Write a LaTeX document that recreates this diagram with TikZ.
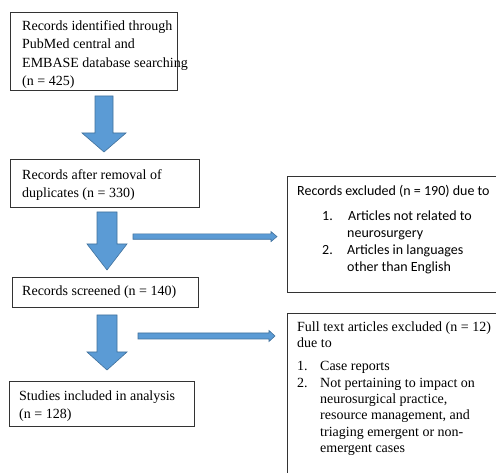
\documentclass[tikz,border=0pt]{standalone}
\usepackage{fontspec}
\setmainfont{Liberation Serif}
\newfontfamily\carl{Carlito}
\definecolor{arrfill}{HTML}{5B9BD5}
\definecolor{arrline}{HTML}{41719C}
\newcommand\dnarrow[7]{%
  \filldraw[blk] (#1,#5) -- (#2,#5) -- (#2,#6) -- (#4,#6) -- ({(#3+#4)/2},#7) -- (#3,#6) -- (#1,#6) -- cycle;}
\begin{document}
\begin{tikzpicture}[x=1pt,y=-1pt,
  box/.style={draw=black!80, line width=0.9pt, rectangle, inner sep=0pt, anchor=north west},
  txt/.style={font=\fontsize{14}{18.3}\selectfont, align=left, inner sep=0pt, anchor=west},
  rtxt/.style={font=\fontsize{14}{16.3}\selectfont, align=left, inner sep=0pt, anchor=west},
  ctxt/.style={font=\carl\fontsize{14}{17}\selectfont, align=left, inner sep=0pt, anchor=west},
  blk/.style={fill=arrfill, draw=arrline, line width=0.6pt, line join=miter}]
\useasboundingbox (0,0) rectangle (496,473);
\fill[white] (0,0) rectangle (496,473);

% left column boxes
\node[box, minimum width=167pt, minimum height=78pt] (b1) at (10,12) {};
\node[txt] (t1) at ([xshift=12pt,yshift=-3pt]b1.west) {Records identified through\\PubMed central and\\EMBASE database searching\\(n = 425)};

\node[box, minimum width=189pt, minimum height=48pt] (b2) at (10,159) {};
\node[txt] (t2) at ([xshift=12pt,yshift=-1.5pt]b2.west) {Records after removal of\\duplicates (n = 330)};

\node[box, minimum width=186pt, minimum height=30pt] (b3) at (12,277) {};
\node[txt] (t3) at ([xshift=10pt]b3.west) {Records screened (n = 140)};

\node[box, minimum width=185pt, minimum height=45pt] (b4) at (9,381) {};
\node[txt] (t4) at ([xshift=10pt,yshift=-2pt]b4.west) {Studies included in analysis\\(n = 128)};

% right column boxes (run off the page)
\begin{scope}
\clip (0,0) rectangle (496,473);
\node[box, minimum width=260pt, minimum height=116pt] (r1) at (287,176) {};
\node[box, minimum width=260pt, minimum height=200pt] (r2) at (287,313) {};
\end{scope}

\node[ctxt] (r1t) at (297,191.5) {Records excluded (n = 190) due to};
\node[ctxt] (r1l) at (322,242) {\makebox[26pt][l]{1.}Articles not related to\\\hspace*{25pt}neurosurgery\\\makebox[25pt][l]{2.}Articles in languages\\\hspace*{25pt}other than English};

\node[rtxt] (r2t) at (297,334.5) {Full text articles excluded (n = 12)\\due to};
\node[rtxt] (r2l) at (297,408.5) {\makebox[23pt][l]{1.}Case reports\\\makebox[23pt][l]{2.}Not pertaining to impact on\\\hspace*{23pt}neurosurgical practice,\\\hspace*{23pt}resource management, and\\\hspace*{23pt}triaging emergent or non-\\\hspace*{23pt}emergent cases};

% block arrows down
\dnarrow{95}{113}{82}{126}{96}{133}{152}
\dnarrow{97}{117}{87}{127}{212}{244}{270}
\dnarrow{97}{117}{87}{127}{315}{352}{370}

% horizontal arrows to the exclusion boxes
\coordinate (h1s) at (133,236.6);
\coordinate (h1e) at ([xshift=-10pt]r1.west |- h1s);
\filldraw[blk] ([yshift=-2.7pt]h1s) -- ([xshift=-6pt,yshift=-2.7pt]h1e) -- ([xshift=-6pt,yshift=-5pt]h1e) -- (h1e) -- ([xshift=-6pt,yshift=5pt]h1e) -- ([xshift=-6pt,yshift=2.7pt]h1e) -- ([yshift=2.7pt]h1s) -- cycle;

\coordinate (h2s) at (138,336);
\coordinate (h2e) at ([xshift=-12pt]r2.west |- h2s);
\filldraw[blk] ([yshift=-3pt]h2s) -- ([xshift=-6pt,yshift=-3pt]h2e) -- ([xshift=-6pt,yshift=-5.5pt]h2e) -- (h2e) -- ([xshift=-6pt,yshift=5.5pt]h2e) -- ([xshift=-6pt,yshift=3pt]h2e) -- ([yshift=3pt]h2s) -- cycle;
\end{tikzpicture}
\end{document}
